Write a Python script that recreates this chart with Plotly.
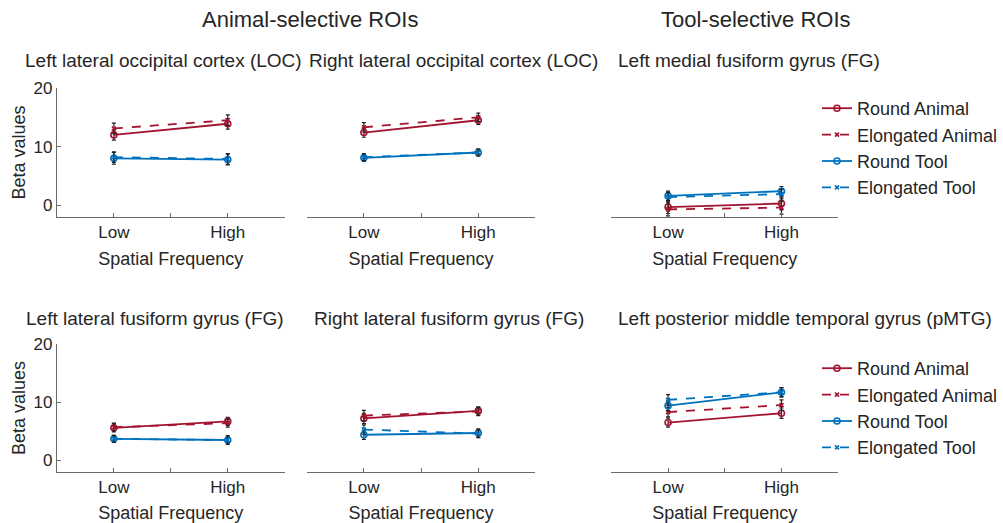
import plotly.graph_objects as go

# ---------------- data ----------------
conditions = ["Round Animal", "Elongated Animal", "Round Tool", "Elongated Tool"]
sf_positions = [1, 2]
sf_labels = ["Low", "High"]
y_ticks = [0, 10, 20]

group_titles = ["Animal-selective ROIs", "Tool-selective ROIs"]
panel_titles = [
    "Left lateral occipital cortex (LOC)",
    "Right lateral occipital cortex (LOC)",
    "Left medial fusiform gyrus (FG)",
    "Left lateral fusiform gyrus (FG)",
    "Right lateral fusiform gyrus (FG)",
    "Left posterior middle temporal gyrus (pMTG)",
]

# means: [Round Animal, Elongated Animal, Round Tool, Elongated Tool] x [Low, High]
left_loc_mean = [[12.0, 13.9], [13.1, 14.5], [8.0, 7.8], [8.2, 7.9]]
left_loc_err = [[0.9, 0.9], [0.9, 0.9], [1.0, 0.9], [0.9, 0.9]]
right_loc_mean = [[12.4, 14.5], [13.3, 15.0], [8.1, 9.0], [8.2, 9.0]]
right_loc_err = [[0.8, 0.7], [0.8, 0.7], [0.6, 0.6], [0.6, 0.6]]
left_medial_fg_mean = [[-0.3, 0.3], [-0.7, -0.4], [1.6, 2.4], [1.4, 1.9]]
left_medial_fg_err = [[1.1, 1.1], [1.1, 1.1], [0.8, 0.8], [0.8, 0.8]]
left_lateral_fg_mean = [[5.6, 6.7], [5.7, 6.4], [3.7, 3.5], [3.7, 3.5]]
left_lateral_fg_err = [[0.7, 0.7], [0.7, 0.7], [0.6, 0.7], [0.6, 0.7]]
right_lateral_fg_mean = [[7.2, 8.5], [7.7, 8.4], [4.4, 4.7], [5.3, 4.6]]
right_lateral_fg_err = [[0.9, 0.7], [0.9, 0.7], [0.8, 0.7], [0.8, 0.7]]
left_pmtg_mean = [[6.5, 8.1], [8.3, 9.5], [9.4, 11.7], [10.4, 11.7]]
left_pmtg_err = [[0.8, 0.9], [0.8, 0.9], [0.9, 0.8], [0.9, 0.8]]

panel_means = [left_loc_mean, right_loc_mean, left_medial_fg_mean,
               left_lateral_fg_mean, right_lateral_fg_mean, left_pmtg_mean]
panel_errs = [left_loc_err, right_loc_err, left_medial_fg_err,
              left_lateral_fg_err, right_lateral_fg_err, left_pmtg_err]

# ---------------- style ----------------
FONT = "Liberation Sans, Arial, sans-serif"
TXT = "#262626"
AX = "#6a6a6a"
RED = "#A2142F"
BLUE = "#0072BD"
cond_color = [RED, RED, BLUE, BLUE]
cond_dash = ["solid", "dash", "solid", "dash"]
cond_symbol = ["circle-open", "x-thin-open", "circle-open", "x-thin-open"]
cond_msize = [6, 4, 6, 4]

W, H = 1003, 523
x_dom_px = [(57, 285), (307, 536), (612, 839)]
y_dom_px = [(88, 217), (344, 472)]


def xd(a, b):
    return [a / W, b / W]


def yd(top, bot):
    return [1 - bot / H, 1 - top / H]


fig = go.Figure()

for p in range(6):
    row, col = divmod(p, 3)
    axn = "" if p == 0 else str(p + 1)
    for c in range(4):
        show = (col == 2)
        fig.add_trace(go.Scatter(
            x=sf_positions,
            y=panel_means[p][c],
            error_y=dict(type="data", array=panel_errs[p][c], color="#222222",
                         thickness=1.2, width=2),
            mode="lines+markers",
            name=conditions[c],
            line=dict(color=cond_color[c], width=1.8, dash=cond_dash[c]),
            marker=dict(symbol=cond_symbol[c], size=cond_msize[c],
                        color=cond_color[c], line=dict(width=1.6, color=cond_color[c])),
            xaxis="x" + axn, yaxis="y" + axn,
            showlegend=show,
            legend="legend" if row == 0 else "legend2",
        ))
    xa = dict(
        domain=xd(*x_dom_px[col]), anchor="y" + axn,
        range=[0.5, 2.5], tickmode="array",
        tickvals=[0.5, 1, 1.5, 2, 2.5], ticktext=["", sf_labels[0], "", sf_labels[1], ""],
        ticks="inside", ticklen=4, tickcolor=AX, tickwidth=1,
        showline=True, linecolor=AX, linewidth=1,
        showgrid=False, zeroline=False, automargin=False,
        tickfont=dict(family=FONT, size=17, color=TXT),
        title=dict(text="Spatial Frequency", font=dict(family=FONT, size=18, color=TXT),
                   standoff=10),
        fixedrange=True,
    )
    ya = dict(
        domain=yd(*y_dom_px[row]), anchor="x" + axn,
        range=[-2, 20], showgrid=False, zeroline=False, fixedrange=True,
        automargin=False,
    )
    if col == 0:
        ya.update(
            tickmode="array", tickvals=y_ticks, ticks="inside", ticklen=4,
            tickcolor=AX, showline=True, linecolor=AX, linewidth=1,
            tickfont=dict(family=FONT, size=17, color=TXT),
            title=dict(text="Beta values", font=dict(family=FONT, size=18, color=TXT),
                       standoff=3),
        )
    else:
        ya.update(visible=False)
    fig.layout["xaxis" + axn] = xa
    fig.layout["yaxis" + axn] = ya

annotations = []
group_centers = [(310, 19), (757, 19)]
for t, (cx, cy) in zip(group_titles, group_centers):
    annotations.append(dict(text=t, x=cx / W, y=1 - cy / H, xref="paper", yref="paper",
                            showarrow=False, xanchor="center", yanchor="middle",
                            font=dict(family=FONT, size=22, color=TXT)))
title_centers = [(164, 61), (454, 61), (750, 61), (155, 318), (449, 318), (806, 318)]
for t, (cx, cy) in zip(panel_titles, title_centers):
    annotations.append(dict(text=t, x=cx / W, y=1 - cy / H, xref="paper", yref="paper",
                            showarrow=False, xanchor="center", yanchor="middle",
                            font=dict(family=FONT, size=19, color=TXT)))

legend_common = dict(
    xref="paper", yref="paper", xanchor="left", yanchor="top",
    bgcolor="rgba(0,0,0,0)", borderwidth=0,
    font=dict(family=FONT, size=18, color=TXT),
    itemwidth=30, tracegroupgap=0,
)

fig.update_layout(
    width=W, height=H,
    margin=dict(l=0, r=0, t=0, b=0),
    paper_bgcolor="white", plot_bgcolor="white",
    annotations=annotations,
    showlegend=True,
    legend=dict(x=818 / W, y=1 - 90 / H, **legend_common),
    legend2=dict(x=818 / W, y=1 - 350 / H, **legend_common),
    font=dict(family=FONT, color=TXT),
)

fig.write_html("out.html")
